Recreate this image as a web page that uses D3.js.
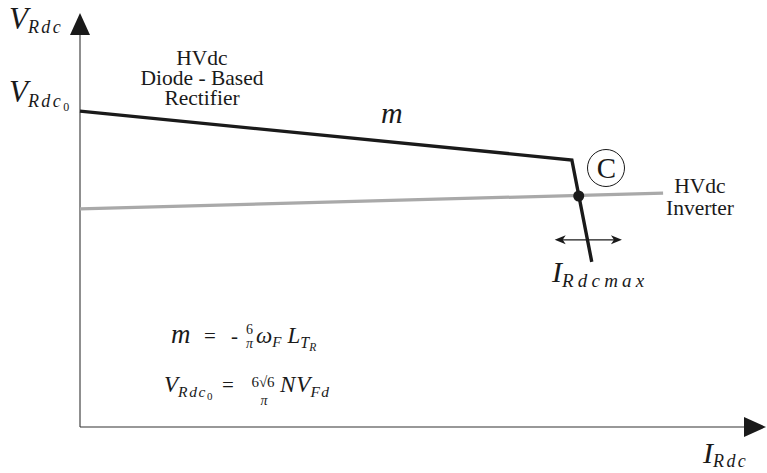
<!DOCTYPE html>
<html>
<head>
<meta charset="utf-8">
<script src="https://cdn.jsdelivr.net/npm/d3@7"></script>
<style>
  html, body { margin: 0; padding: 0; background: #fff; }
  svg { display: block; }
</style>
</head>
<body>
<svg id="chart" width="767" height="473" font-family="Liberation Serif"></svg>
<script>
// Operating characteristics in normalised units (current, voltage), 0..100
const rectifierI = [0, 71.7, 74.6];
const rectifierV = [76.3, 64.5, 39.9];
const inverterI = [0, 85.0];
const inverterV = [52.7, 56.5];
const crossingI = [72.7];
const crossingV = [55.8];
const rangeArrowI = [69.2, 79.0];
const rangeArrowV = [45.2];

const blockRect = ["HVdc", "Diode - Based", "Rectifier"];
const blockInv = ["HVdc", "Inverter"];

const SERIF = "Liberation Serif";
const INK = "#1a1a1a";

const svg = d3.select("#chart");
const x = d3.scaleLinear().domain([0, 100]).range([80, 766]);
const y = d3.scaleLinear().domain([0, 100]).range([427, 13]);

// Axis lines drawn from the scale extents
svg.append("line").attr("x1", x(0)).attr("x2", x(100) - 10).attr("y1", y(0)).attr("y2", y(0))
  .attr("stroke", "#333").attr("stroke-width", 1.1);
svg.append("line").attr("x1", x(0)).attr("x2", x(0)).attr("y1", y(0)).attr("y2", y(100) + 10)
  .attr("stroke", "#333").attr("stroke-width", 1.1);

// Arrow heads on the axes
svg.append("path")
  .attr("d", `M${x(100)},${y(0)} L${x(100) - 22},${y(0) - 10} L${x(100) - 22},${y(0) + 10} Z`)
  .attr("fill", INK);
svg.append("path")
  .attr("d", `M${x(0)},${y(100)} L${x(0) - 10},${y(100) + 22} L${x(0) + 10},${y(100) + 22} Z`)
  .attr("fill", INK);

const line = d3.line().x(d => x(d[0])).y(d => y(d[1]));

// Inverter characteristic
svg.append("path")
  .datum(d3.zip(inverterI, inverterV))
  .attr("d", line).attr("fill", "none")
  .attr("stroke", "#a9a9a9").attr("stroke-width", 3.2);

// Rectifier characteristic
svg.append("path")
  .datum(d3.zip(rectifierI, rectifierV))
  .attr("d", line).attr("fill", "none")
  .attr("stroke", INK).attr("stroke-width", 3.4)
  .attr("stroke-linejoin", "miter");

// Operating point
svg.append("circle")
  .attr("cx", x(crossingI[0])).attr("cy", y(crossingV[0])).attr("r", 5.5)
  .attr("fill", INK);

// Double arrow for the current limit range
const ay = y(rangeArrowV[0]);
const ax0 = x(rangeArrowI[0]), ax1 = x(rangeArrowI[1]);
svg.append("line").attr("x1", ax0 + 4).attr("x2", ax1 - 4).attr("y1", ay).attr("y2", ay)
  .attr("stroke", INK).attr("stroke-width", 1.2);
svg.append("path").attr("d", `M${ax0},${ay} L${ax0 + 11},${ay - 4.5} L${ax0 + 8},${ay} L${ax0 + 11},${ay + 4.5} Z`).attr("fill", INK);
svg.append("path").attr("d", `M${ax1},${ay} L${ax1 - 11},${ay - 4.5} L${ax1 - 8},${ay} L${ax1 - 11},${ay + 4.5} Z`).attr("fill", INK);

// Circled C marker
svg.append("circle").attr("cx", 606).attr("cy", 168).attr("r", 18.5)
  .attr("fill", "none").attr("stroke", INK).attr("stroke-width", 1);

// Plain text
function word(xp, yp, size, str, italic, anchor) {
  const t = svg.append("text").attr("x", xp).attr("y", yp)
    .attr("font-family", SERIF).attr("font-size", size).attr("fill", INK).text(str);
  if (italic) t.attr("font-style", "italic");
  if (anchor) t.attr("text-anchor", anchor);
  return t;
}
// Text made of runs: main symbol plus italic subscripts
function label(xp, yp, parts) {
  const t = svg.append("text").attr("x", xp).attr("y", yp)
    .attr("font-family", SERIF).attr("fill", INK);
  parts.forEach(p => {
    const s = t.append("tspan").attr("font-size", p.size).text(p.text);
    if (p.italic) s.attr("font-style", "italic");
    if (p.dy) s.attr("dy", p.dy);
    if (p.dx) s.attr("dx", p.dx);
    if (p.ls) s.attr("letter-spacing", p.ls);
  });
  return t;
}

word(606.5, 178, 29, "C", false, "middle");

// Axis titles
label(9, 29, [{ text: "V", size: 31, italic: true },
  { text: "Rdc", size: 18, italic: true, dy: 4, ls: 2.4 }]);
label(9, 102, [{ text: "V", size: 31, italic: true },
  { text: "Rdc", size: 18, italic: true, dy: 5, ls: 2.4 }, { text: "0", size: 12, dy: 4 }]);
label(703, 463, [{ text: "I", size: 30, italic: true },
  { text: "Rdc", size: 18, italic: true, dy: 4, ls: 2.4 }]);
label(552, 282, [{ text: "I", size: 30, italic: true },
  { text: "Rdcmax", size: 19, italic: true, dy: 5, ls: 4.2 }]);

// Block annotations
blockRect.forEach((s, i) => word(202, 64.5 + i * 20, 21.5, s, false, "middle"));
blockInv.forEach((s, i) => word(700, 193 + i * 22, 21.5, s, false, "middle"));

// Slope label
word(381, 123, 30, "m", true);

// Formula for the slope
word(171, 343, 27, "m", true);
word(204, 343, 21, "=");
word(231, 343, 21, "-");
word(249.5, 334, 14, "6", false, "middle");
word(249.5, 348, 14, "π", true, "middle");
label(256, 343, [{ text: "ω", size: 23, italic: true }, { text: "F", size: 15, italic: true, dy: 4 },
  { text: "L", size: 23, italic: true, dy: -4, dx: 6 }, { text: "T", size: 16, italic: true, dy: 5 },
  { text: "R", size: 11.5, italic: true, dy: 3 }]);

// Formula for the no-load voltage
label(164, 392, [{ text: "V", size: 23, italic: true }, { text: "Rdc", size: 15.5, italic: true, dy: 5, ls: 1.6 },
  { text: "0", size: 11, dy: 3 }]);
word(222, 392, 21, "=");
word(263, 387, 15, "6√6", false, "middle");
word(264, 405, 14, "π", true, "middle");
label(280, 392, [{ text: "N", size: 23, italic: true, ls: 1 }, { text: "V", size: 23, italic: true },
  { text: "Fd", size: 15.5, italic: true, dy: 5, ls: 1.5 }]);
</script>
</body>
</html>
